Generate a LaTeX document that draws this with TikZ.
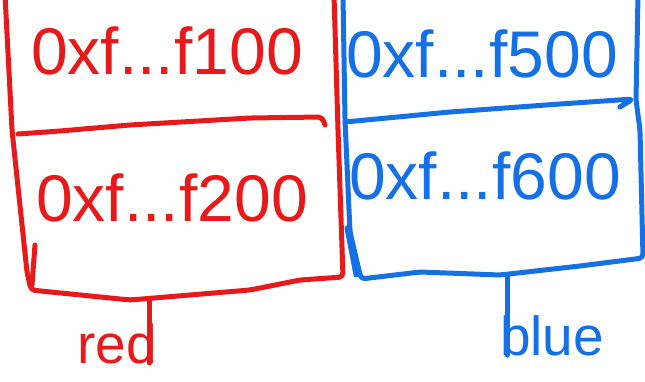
\documentclass[tikz,border=0pt]{standalone}
\usepackage{fontspec}
\setmainfont{Liberation Sans}
\definecolor{inkred}{HTML}{E8191A}
\definecolor{inkblue}{HTML}{1570E6}

\begin{document}
\begin{tikzpicture}[x=1pt,y=-1pt,
    ink/.style={line width=5pt, line cap=round, line join=round, rounded corners=4pt},
    addr/.style={font=\fontsize{66}{66}\selectfont, inner sep=0pt},
    tag/.style={font=\fontsize{55}{55}\selectfont, inner sep=1pt}]
    \useasboundingbox (0,0) rectangle (645,382);

    % red block
    \draw[ink, inkred] (5,-5) -- (12,130) -- (27,272) -- (31,290) -- (130,300) -- (250,290) -- (300,280) -- (343,277) -- (338,130) -- (334,-5);
    \draw[ink, inkred] (35,245) -- (32,285);
    \draw[ink, inkred] (18,134) -- (60,131) -- (130,125) -- (250,118) -- (322,117) -- (325,125);
    \node[addr, text=inkred] (r100) at (167,75) [anchor=base] {0xf...f100};
    \node[addr, text=inkred] (r200) at (172,222) [anchor=base] {0xf...f200};
    \coordinate (rbot) at (149,300);
    \node[tag, text=inkred, anchor=base] (redtag) at (117,363) {red};
    \draw[ink, inkred] (rbot) -- (rbot |- redtag.base);

    % blue block
    \draw[ink, inkblue] (343,-5) -- (345,120) -- (350,232) -- (361,279) -- (420,272) -- (500,275) -- (580,266) -- (643,258) -- (640,130) -- (636,100) -- (638,-5);
    \draw[ink, inkblue] (347,228) -- (356,275);
    \draw[ink, inkblue] (345,122) -- (450,112) -- (560,104) -- (633,99) -- (620,107);
    \node[addr, text=inkblue] (b500) at (482,78) [anchor=base] {0xf...f500};
    \node[addr, text=inkblue] (b600) at (485,200) [anchor=base] {0xf...f600};
    \coordinate (bbot) at (507,276);
    \node[tag, text=inkblue, anchor=base] (bluetag) at (552,355) {blue};
    \draw[ink, inkblue] (bbot) -- (bbot |- bluetag.base);
\end{tikzpicture}
\end{document}
